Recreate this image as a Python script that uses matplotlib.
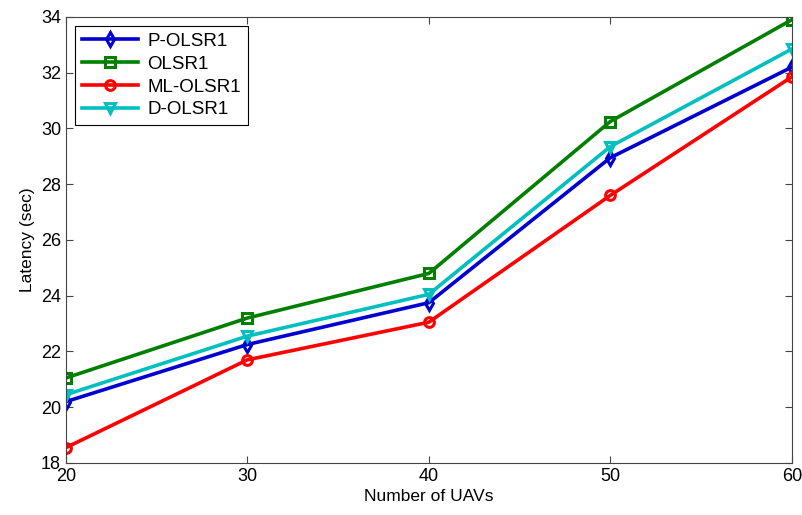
import matplotlib

matplotlib.use("Agg")
import matplotlib.pyplot as plt  # noqa: E402

plt.rcParams["font.family"] = ["Liberation Sans", "DejaVu Sans"]

uavs = [20, 30, 40, 50, 60]
p_olsr = [20.2, 22.25, 23.75, 28.95, 32.2]
olsr = [21.05, 23.2, 24.8, 30.25, 33.9]
ml_olsr = [18.55, 21.7, 23.05, 27.6, 31.85]
d_olsr = [20.45, 22.55, 24.05, 29.35, 32.85]

series = [
    ("P-OLSR1", p_olsr, "#0000d0", "d"),
    ("OLSR1", olsr, "#007f00", "s"),
    ("ML-OLSR1", ml_olsr, "#ff0000", "o"),
    ("D-OLSR1", d_olsr, "#00bfbf", "v"),
]

fig = plt.figure(figsize=(8.03, 5.15), dpi=100)
ax = fig.add_axes([0.082, 0.101, 0.904, 0.866])

for name, ys, color, mk in series:
    ax.plot(uavs, ys, color=color, linewidth=2.6, marker=mk, markersize=7,
            markerfacecolor="none", markeredgewidth=2.2, label=name)

ax.set_xlim(20, 60)
ax.set_ylim(18, 34)
ax.set_xticks(uavs)
ax.set_yticks(range(18, 35, 2))
ax.tick_params(direction="in", top=True, right=True, labelsize=13, length=5, color="#444444")
for sp in ax.spines.values():
    sp.set_color("#444444")
    sp.set_linewidth(0.8)
ax.set_xlabel("Number of UAVs", fontsize=12.5, labelpad=3)
ax.set_ylabel("Latency (sec)", fontsize=12.5)

leg = ax.legend(loc="upper left", fontsize=13.5, fancybox=False, framealpha=1,
                edgecolor="black", handlelength=3.0, borderaxespad=0.5,
                labelspacing=0.3, borderpad=0.35, handletextpad=0.5)
leg.get_frame().set_linewidth(0.8)

fig.savefig("out.png", dpi=100)
